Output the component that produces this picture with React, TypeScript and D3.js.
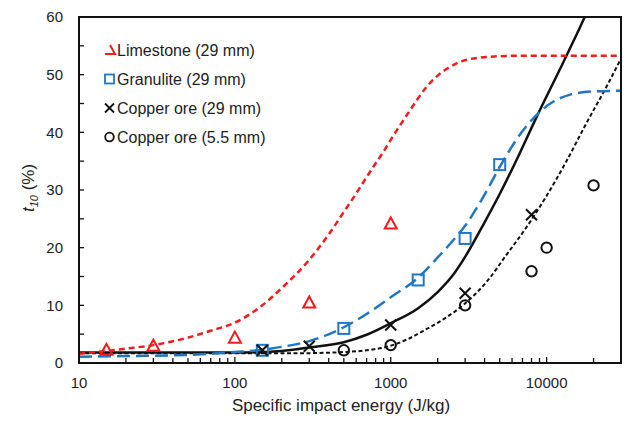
import React, { useEffect, useRef } from 'react';
import * as d3 from 'd3';

// fitted curves (energy J/kg, t10 %)
const limestoneCurveE = [10, 15, 20, 30, 50, 70, 100, 150, 200, 300, 400, 500, 600, 730, 890, 1090, 1320, 1700, 2100, 2500, 2900, 4300, 7000, 30000];
const limestoneCurveT = [1.6, 2.1, 2.5, 3.1, 4.4, 5.6, 7.0, 10.0, 13.0, 17.9, 22.3, 26.2, 29.4, 33.0, 36.5, 40.3, 43.7, 47.9, 50.3, 51.6, 52.4, 53.1, 53.3, 53.3];

const granuliteCurveE = [10, 20, 50, 100, 150, 200, 300, 500, 700, 1000, 1500, 2000, 2500, 3000, 4000, 5000, 6500, 8600, 11000, 14000, 20000, 30000];
const granuliteCurveT = [1.1, 1.2, 1.4, 1.9, 2.3, 2.8, 3.8, 6.2, 8.5, 11.4, 14.8, 18.3, 21.2, 23.8, 29.2, 34.0, 39.0, 43.0, 45.3, 46.5, 47.1, 47.2];

const copper29CurveE = [10, 100, 150, 200, 300, 500, 700, 1000, 1500, 2000, 2500, 3000, 4000, 5000, 6700, 8600, 12100, 15600, 18300, 20000];
const copper29CurveT = [1.8, 1.8, 1.9, 2.1, 2.7, 3.6, 4.9, 6.9, 9.5, 12.3, 15.2, 18.4, 24.4, 29.3, 36.3, 42.6, 50.8, 57.0, 61.0, 63.0];

const copper55CurveE = [10, 100, 260, 500, 700, 1000, 1300, 1700, 2300, 2900, 4100, 5540, 7450, 10000, 13400, 18000, 24300, 30000];
const copper55CurveT = [1.7, 1.7, 1.7, 1.9, 2.2, 3.0, 4.2, 5.9, 8.0, 10.0, 14.0, 18.8, 23.6, 29.0, 35.0, 41.6, 48.0, 52.8];

// measured points
const limestoneE = [15, 30, 100, 300, 1000];
const limestoneT = [2.3, 3.0, 4.4, 10.5, 24.2];
const granuliteE = [150, 500, 1500, 3000, 5000];
const granuliteT = [2.2, 6.0, 14.4, 21.6, 34.4];
const copper29E = [150, 300, 1000, 3000, 8000];
const copper29T = [2.2, 2.9, 6.6, 12.1, 25.7];
const copper55E = [500, 1000, 3000, 8000, 10000, 20000];
const copper55T = [2.2, 3.1, 10.0, 15.9, 20.0, 30.8];

const legendLabels = ['Limestone (29 mm)', 'Granulite (29 mm)', 'Copper ore (29 mm)', 'Copper ore (5.5 mm)'];
const xTicks = [10, 100, 1000, 10000];
const yTicks = [0, 10, 20, 30, 40, 50, 60];

const RED = '#f01c1c';
const BLUE = '#1f77c4';
const FONT = 'Liberation Sans, Arial, sans-serif';

const App = () => {
  const ref = useRef<SVGSVGElement>(null);

  useEffect(() => {
    d3.select(ref.current).selectAll('*').remove();
    const svg = d3.select(ref.current);

    const left = 79, right = 621, top = 17, bottom = 363;

    const x = d3.scaleLog().domain([10, 30000]).range([left, right]);
    const y = d3.scaleLinear().domain([0, 60]).range([bottom, top]);

    svg.append('clipPath').attr('id', 'plot-clip')
      .append('rect')
      .attr('x', left).attr('y', top)
      .attr('width', right - left).attr('height', bottom - top);

    // minor / major ticks, inward
    const xMinor = d3.range(1, 5).flatMap(p => d3.range(1, 10).map(m => m * Math.pow(10, p)))
      .filter(v => v >= 10 && v <= 30000);
    svg.append('g').selectAll('line')
      .data(xMinor)
      .enter().append('line')
      .attr('x1', d => x(d)).attr('x2', d => x(d))
      .attr('y1', bottom).attr('y2', d => xTicks.includes(d) ? bottom - 6 : bottom - 5)
      .attr('stroke', '#111').attr('stroke-width', 1.3);

    const yMinor = d3.range(0, 61, 5);
    svg.append('g').selectAll('line')
      .data(yMinor)
      .enter().append('line')
      .attr('x1', left).attr('x2', left + 5)
      .attr('y1', d => y(d)).attr('y2', d => y(d))
      .attr('stroke', '#111').attr('stroke-width', 1.3);

    // tick labels
    svg.append('g').selectAll('text')
      .data(xTicks)
      .enter().append('text')
      .attr('x', d => x(d)).attr('y', 388)
      .attr('text-anchor', 'middle')
      .attr('font-family', FONT).attr('font-size', 15)
      .attr('fill', '#222')
      .text(d => String(d));

    svg.append('g').selectAll('text')
      .data(yTicks)
      .enter().append('text')
      .attr('x', 63).attr('y', d => y(d))
      .attr('dy', '0.36em')
      .attr('text-anchor', 'end')
      .attr('font-family', FONT).attr('font-size', 15)
      .attr('fill', '#222')
      .text(d => String(d));

    // curves
    const line = d3.line<[number, number]>()
      .x(d => x(d[0]))
      .y(d => y(d[1]))
      .curve(d3.curveMonotoneX);

    const curves = [
      { e: copper55CurveE, t: copper55CurveT, color: '#111', width: 2, dash: '4,2.5' },
      { e: copper29CurveE, t: copper29CurveT, color: '#111', width: 2.5, dash: null },
      { e: granuliteCurveE, t: granuliteCurveT, color: BLUE, width: 2.5, dash: '13,6' },
      { e: limestoneCurveE, t: limestoneCurveT, color: RED, width: 2.5, dash: '6,4' },
    ];

    const curveG = svg.append('g').attr('clip-path', 'url(#plot-clip)');
    curves.forEach(c => {
      curveG.append('path')
        .datum(c.e.map((e, i) => [e, c.t[i]] as [number, number]))
        .attr('fill', 'none')
        .attr('stroke', c.color)
        .attr('stroke-width', c.width)
        .attr('stroke-dasharray', c.dash)
        .attr('d', line);
    });

    // markers
    const triangle = (g, cx, cy) => g.append('path')
      .attr('d', `M${cx - 6},${cy + 5}L${cx + 6},${cy + 5}L${cx},${cy - 6}Z`)
      .attr('fill', 'none').attr('stroke', RED).attr('stroke-width', 2);
    const square = (g, cx, cy) => g.append('rect')
      .attr('x', cx - 5.5).attr('y', cy - 5.5).attr('width', 11).attr('height', 11)
      .attr('fill', 'none').attr('stroke', BLUE).attr('stroke-width', 2);
    const cross = (g, cx, cy) => g.append('path')
      .attr('d', `M${cx - 5.5},${cy - 5.5}L${cx + 5.5},${cy + 5.5}M${cx - 5.5},${cy + 5.5}L${cx + 5.5},${cy - 5.5}`)
      .attr('stroke', '#111').attr('stroke-width', 2);
    const circle = (g, cx, cy) => g.append('circle')
      .attr('cx', cx).attr('cy', cy).attr('r', 5.2)
      .attr('fill', 'none').attr('stroke', '#111').attr('stroke-width', 2);

    const markG = svg.append('g');
    limestoneE.forEach((e, i) => triangle(markG, x(e), y(limestoneT[i])));
    granuliteE.forEach((e, i) => square(markG, x(e), y(granuliteT[i])));
    copper29E.forEach((e, i) => cross(markG, x(e), y(copper29T[i])));
    copper55E.forEach((e, i) => circle(markG, x(e), y(copper55T[i])));

    // frame
    svg.append('rect')
      .attr('x', left).attr('y', top)
      .attr('width', right - left).attr('height', bottom - top)
      .attr('fill', 'none').attr('stroke', '#111').attr('stroke-width', 2);

    // legend
    const legG = svg.append('g');
    const rows = [50, 79, 108, 137];
    legG.append('path')
      .attr('d', `M105,${rows[0] + 4}L115,${rows[0] + 4}L110,${rows[0] - 5}`)
      .attr('fill', 'none').attr('stroke', RED).attr('stroke-width', 2);
    legG.append('rect')
      .attr('x', 105).attr('y', rows[1] - 4.5).attr('width', 9).attr('height', 9)
      .attr('fill', 'none').attr('stroke', BLUE).attr('stroke-width', 1.8);
    legG.append('path')
      .attr('d', `M105,${rows[2] - 4.5}L114,${rows[2] + 4.5}M105,${rows[2] + 4.5}L114,${rows[2] - 4.5}`)
      .attr('stroke', '#111').attr('stroke-width', 1.8);
    legG.append('circle')
      .attr('cx', 109.5).attr('cy', rows[3]).attr('r', 4.3)
      .attr('fill', 'none').attr('stroke', '#111').attr('stroke-width', 1.8);
    legG.selectAll('text')
      .data(legendLabels)
      .enter().append('text')
      .attr('x', 117).attr('y', (d, i) => rows[i])
      .attr('dy', '0.36em')
      .attr('font-family', FONT).attr('font-size', 16)
      .attr('fill', '#222')
      .text(d => d);

    // axis titles
    svg.append('text')
      .attr('x', 341).attr('y', 411)
      .attr('text-anchor', 'middle')
      .attr('font-family', FONT).attr('font-size', 17)
      .attr('fill', '#222')
      .text('Specific impact energy (J/kg)');

    const yTitle = svg.append('text')
      .attr('transform', 'translate(34,188) rotate(-90)')
      .attr('text-anchor', 'middle')
      .attr('font-family', FONT).attr('font-size', 17)
      .attr('fill', '#222');
    yTitle.append('tspan').attr('font-style', 'italic').text('t');
    yTitle.append('tspan').attr('font-style', 'italic').attr('font-size', 11).attr('dy', 4).text('10');
    yTitle.append('tspan').attr('dy', -4).text(' (%)');
  }, []);

  return (
    <svg ref={ref} width="626" height="425" style={{ position: 'absolute', left: 0, top: 0, background: '#fff' }}></svg>
  );
};

export default App;
